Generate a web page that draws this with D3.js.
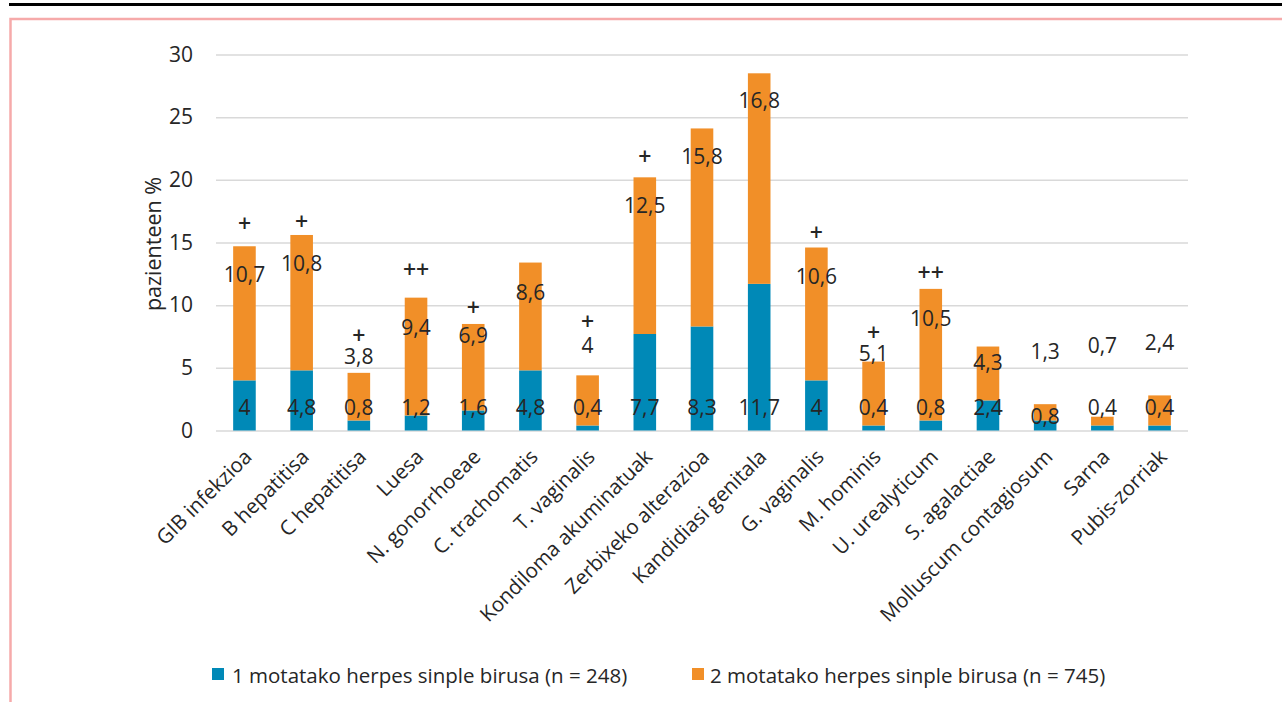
<!DOCTYPE html>
<html>
<head>
<meta charset="utf-8">
<script src="https://cdn.jsdelivr.net/npm/d3@7"></script>
<style>
  html, body { margin: 0; padding: 0; background: #fff; }
  svg { display: block; }
  text { font-family: "Open Sans", "Liberation Sans", sans-serif; fill: #262626; }
</style>
</head>
<body>
<svg id="chart" width="1282" height="702"></svg>
<script>
// Infections by herpes simplex virus type (percentage of patients)
const categories = [
  "GIB infekzioa", "B hepatitisa", "C hepatitisa", "Luesa", "N. gonorrhoeae",
  "C. trachomatis", "T. vaginalis", "Kondiloma akuminatuak", "Zerbixeko alterazioa",
  "Kandidiasi genitala", "G. vaginalis", "M. hominis", "U. urealyticum",
  "S. agalactiae", "Molluscum contagiosum", "Sarna", "Pubis-zorriak"
];
const hsv1 = [4, 4.8, 0.8, 1.2, 1.6, 4.8, 0.4, 7.7, 8.3, 11.7, 4, 0.4, 0.8, 2.4, 0.8, 0.4, 0.4];
const hsv2 = [10.7, 10.8, 3.8, 9.4, 6.9, 8.6, 4, 12.5, 15.8, 16.8, 10.6, 5.1, 10.5, 4.3, 1.3, 0.7, 2.4];
const significance = ["+", "+", "+", "++", "+", "", "+", "+", "", "", "+", "+", "++", "", "", "", ""];
const seriesNames = [
  "1 motatako herpes sinple birusa (n = 248)",
  "2 motatako herpes sinple birusa (n = 745)"
];
const yTicks = [0, 5, 10, 15, 20, 25, 30];
const yTitle = "pazienteen %";

// Hand placement of annotations, in pixels relative to each bar's top
const hsv2LabelDy = [28, 28, -17, 29, 11, 29, -30, 28, 28, 27, 28, -9, 29, 15, -53, -72, -53];
const markDy = [-23, -14, -38, -29, -17, 0, -54, -21, 0, 0, -16, -30, -17, 0, 0, 0, 0];
// HSV-1 labels sit at a fixed height above the baseline
const hsv1LabelLift = [24, 24, 24, 24, 24, 24, 24, 24, 24, 24, 24, 24, 24, 24, 15, 24, 24];

const colors = ["#0089B7", "#F18F28"];
const fmt = v => String(v).replace(".", ",");

const svg = d3.select("#chart");

// page frame
svg.append("line").attr("x1", 9).attr("x2", 1282).attr("y1", 4.5).attr("y2", 4.5)
  .attr("stroke", "#000").attr("stroke-width", 3);
svg.append("rect").attr("x", 10.5).attr("y", 19).attr("width", 1300).attr("height", 720)
  .attr("fill", "none").attr("stroke", "#F6AAAA").attr("stroke-width", 2.5);

const plot = { left: 216, right: 1188, top: 54.5, bottom: 430.5 };

const x = d3.scaleBand().domain(categories).range([plot.left, plot.right])
  .paddingInner(0.605).paddingOuter(0.3);
const y = d3.scaleLinear().domain([0, 30]).range([plot.bottom, plot.top]);

// gridlines
svg.append("g")
  .attr("transform", `translate(${plot.left},0)`)
  .call(d3.axisLeft(y).tickValues(yTicks).tickSize(-(plot.right - plot.left)).tickFormat(""))
  .call(g => g.select(".domain").remove())
  .call(g => g.selectAll("line").attr("stroke", "#D9D9D9").attr("stroke-width", 1.5));

// y tick labels
svg.append("g")
  .attr("transform", `translate(${plot.left},0)`)
  .call(d3.axisLeft(y).tickValues(yTicks).tickSize(0).tickPadding(23))
  .call(g => g.select(".domain").remove())
  .call(g => g.selectAll("text").attr("font-size", 21).attr("fill", "#404040")
    .style("font-family", '"Open Sans", sans-serif'));

svg.append("text")
  .attr("transform", `translate(152,244) rotate(-90)`)
  .attr("text-anchor", "middle").attr("dominant-baseline", "central")
  .attr("font-size", 21.5).text(yTitle);

// stacked bars
const rows = categories.map((c, i) => ({ cat: c, a: hsv1[i], b: hsv2[i] }));
const stack = d3.stack().keys(["a", "b"])(rows);
const bars = svg.append("g");
stack.forEach((layer, k) => {
  bars.append("g").attr("fill", colors[k])
    .selectAll("rect").data(layer).join("rect")
    .attr("x", d => x(d.data.cat))
    .attr("width", x.bandwidth())
    .attr("y", d => y(d[1]))
    .attr("height", d => y(d[0]) - y(d[1]));
});

// value labels
const cx = c => x(c) + x.bandwidth() / 2;
const labels = svg.append("g").attr("text-anchor", "middle").attr("font-size", 21)
  .attr("dominant-baseline", "central");
rows.forEach((r, i) => {
  const top = y(r.a + r.b);
  labels.append("text").attr("x", cx(r.cat)).attr("y", y(0) - hsv1LabelLift[i]).text(fmt(r.a));
  labels.append("text").attr("x", cx(r.cat)).attr("y", top + hsv2LabelDy[i]).text(fmt(r.b));
  if (significance[i]) {
    labels.append("text").attr("x", cx(r.cat)).attr("y", top + markDy[i])
      .attr("font-weight", 600).attr("font-size", 23).attr("fill", "#111").text(significance[i]);
  }
});

// category labels
svg.append("g").selectAll("text").data(categories).join("text")
  .attr("transform", d => `translate(${cx(d) + 3},${plot.bottom + 22}) rotate(-45)`)
  .attr("text-anchor", "end").attr("dominant-baseline", "central")
  .attr("font-size", 20.5).attr("fill", "#404040").text(d => d);

// legend
const legendItems = [{ x: 212, tx: 232 }, { x: 692, tx: 710 }];
const legend = svg.append("g");
seriesNames.forEach((name, k) => {
  legend.append("rect").attr("x", legendItems[k].x).attr("y", 668).attr("width", 12).attr("height", 12)
    .attr("fill", colors[k]);
  legend.append("text").attr("x", legendItems[k].tx).attr("y", 675)
    .attr("dominant-baseline", "central").attr("font-size", 20.5).attr("fill", "#404040").text(name);
});
</script>
</body>
</html>
